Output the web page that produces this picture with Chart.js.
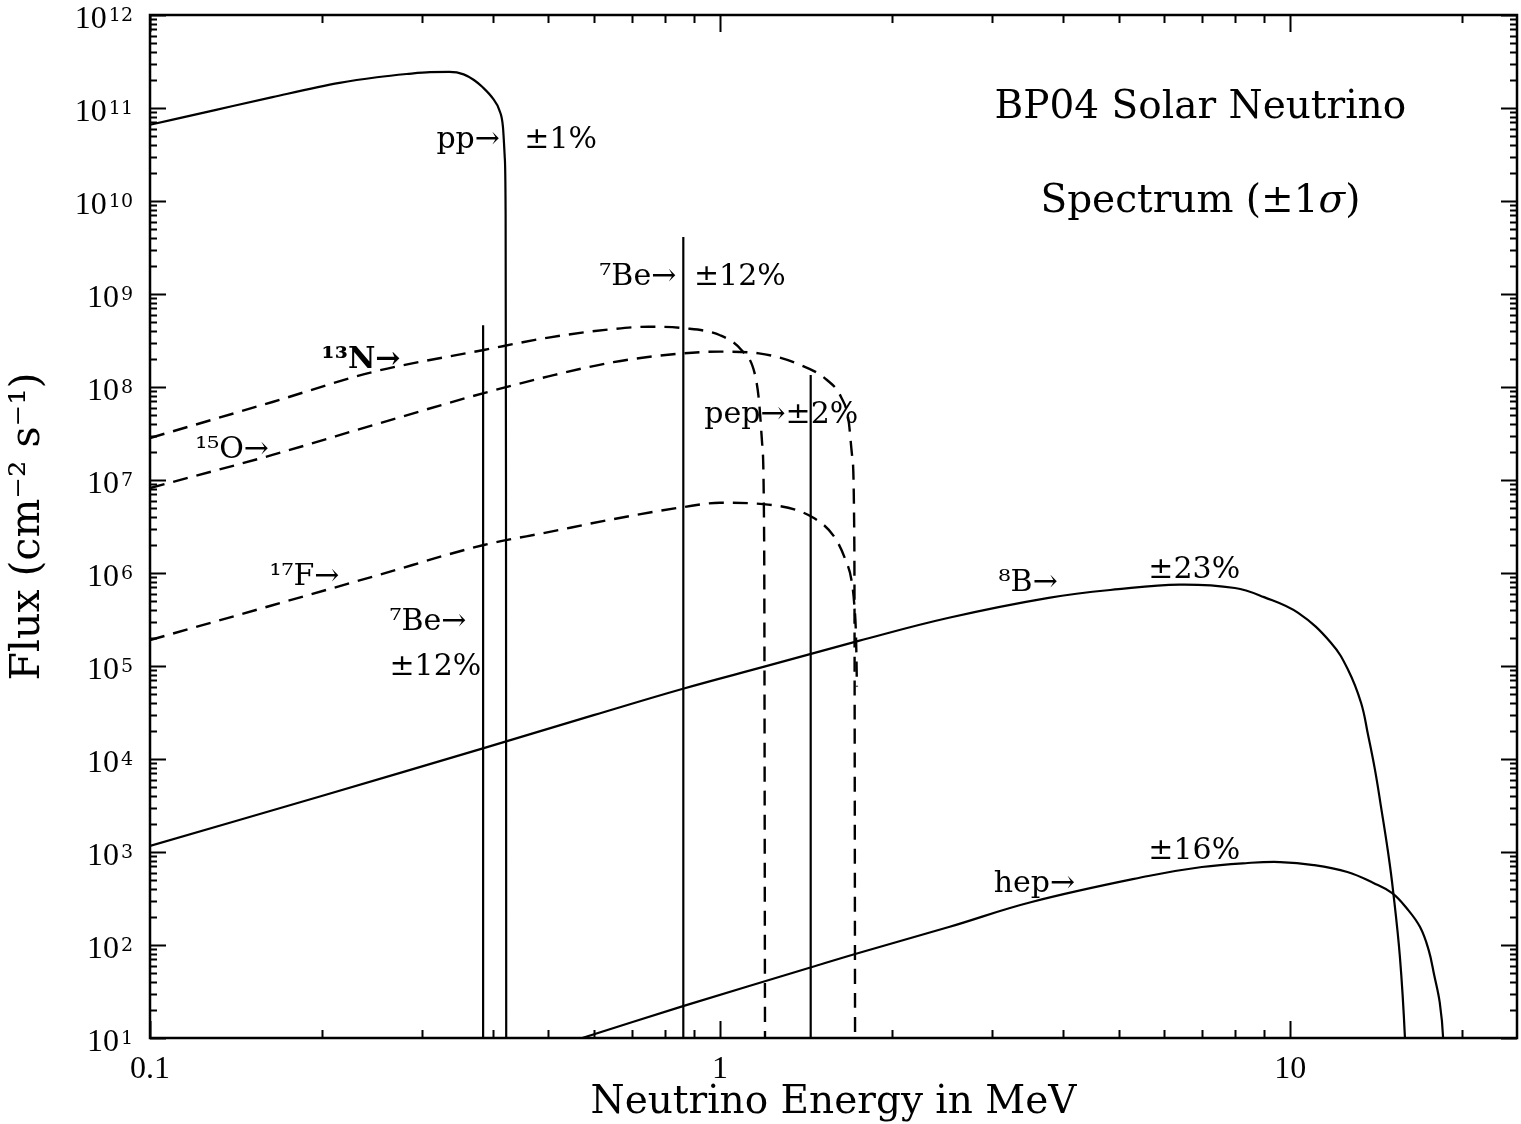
<!DOCTYPE html>
<html>
<head>
<meta charset="utf-8">
<title>BP04 Solar Neutrino Spectrum</title>
<script src="https://cdn.jsdelivr.net/npm/chart.js@4.4.1/dist/chart.umd.min.js"></script>
<style>
  html, body { margin: 0; padding: 0; background: #fff; }
  #wrap { width: 1521px; height: 1124px; }
</style>
</head>
<body>
<div id="wrap"><canvas id="spectrum" width="1521" height="1124"></canvas></div>
<script>
// continuum spectra, energy in MeV, flux in cm^-2 s^-1 (per MeV)
var ppEnergy  = [0.1, 0.13, 0.164, 0.215, 0.25, 0.282, 0.31, 0.335, 0.355, 0.37, 0.383, 0.4, 0.41, 0.416, 0.419, 0.4205, 0.4212, 0.4216];
var ppFlux    = [6.6e10, 9.5e10, 1.31e11, 1.86e11, 2.14e11, 2.32e11, 2.43e11, 2.44e11, 2.3e11, 2.0e11, 1.68e11, 1.25e11, 9.5e10, 6.3e10, 3.0e10, 8e9, 1e7, 1];

var n13Energy = [0.1, 0.164, 0.246, 0.385, 0.5, 0.65, 0.75, 0.86, 1.0, 1.09, 1.15, 1.17, 1.185, 1.195, 1.199];
var n13Flux   = [2.83e7, 6.9e7, 1.45e8, 2.5e8, 3.4e8, 4.2e8, 4.45e8, 4.3e8, 3.6e8, 2.5e8, 1.4e8, 7.2e7, 2.5e7, 2e6, 10];

var o15Energy = [0.1, 0.164, 0.25, 0.385, 0.5, 0.65, 0.86, 1.0, 1.17, 1.36, 1.54, 1.63, 1.68, 1.705, 1.72, 1.725];
var o15Flux   = [8.2e6, 1.86e7, 4.0e7, 8.6e7, 1.3e8, 1.85e8, 2.3e8, 2.4e8, 2.3e8, 1.8e8, 1.19e8, 7.8e7, 4.4e7, 1.8e7, 2e6, 10];

var f17Energy = [0.1, 0.164, 0.25, 0.385, 0.5, 0.65, 0.86, 1.0, 1.19, 1.45, 1.59, 1.66, 1.7, 1.72, 1.732, 1.738];
var f17Flux   = [1.9e5, 4.5e5, 9.4e5, 2.0e6, 2.75e6, 3.8e6, 5.1e6, 5.7e6, 5.5e6, 4.0e6, 2.4e6, 1.38e6, 8.4e5, 4.5e5, 2e5, 6e4];

var b8Energy  = [0.1, 0.2, 0.385, 0.6, 0.861, 1.2, 1.75, 2.52, 3.77, 5.0, 6.4, 8.0, 9.0, 10.33, 11.8, 12.64, 13.32, 13.7, 14.09, 14.43, 14.85, 15.15, 15.58, 15.9, 16.1];
var b8Flux    = [1160, 4.0e3, 1.31e4, 2.96e4, 5.7e4, 9.9e4, 1.86e5, 3.3e5, 5.4e5, 6.7e5, 7.5e5, 6.9e5, 5.5e5, 3.72e5, 1.77e5, 9.06e4, 4.0e4, 1.81e4, 7.6e3, 3.1e3, 1.0e3, 390, 74, 10, 1];

var hepEnergy = [0.573, 0.861, 1.45, 1.75, 2.52, 3.52, 5.64, 7.0, 8.43, 9.6, 11, 12.6, 14, 15.1, 16.0, 16.9, 17.5, 17.9, 18.3, 18.55, 18.7];
var hepFlux   = [10, 22, 58, 82, 156, 290, 552, 690, 762, 780, 724, 610, 465, 362, 250, 156, 88, 47, 24, 10, 1];

// line sources (cm^-2 s^-1): 7Be 0.384, 7Be 0.862, pep 1.442
var lineEnergy = [0.384, 0.862, 1.442];
var lineFlux   = [4.6e8, 4.1e9, 1.35e8];

// axes
var xMin = 0.1, xMax = 25;
var yMin = 10, yMax = 1e12;
var xDecades = [0.1, 1, 10];
var xTickLabels = ['0.1', '1', '10'];
var yExponents = [1, 2, 3, 4, 5, 6, 7, 8, 9, 10, 11, 12];

function minorSteps(decades, top) {
    var out = [];
    decades.forEach(function(d) {
        for (var k = 1; k <= 9; k++) {
            var v = d * k;
            if (v <= top * 1.0000001) out.push(+v.toPrecision(6));
        }
    });
    return out;
}
var xTickValues = minorSteps(xDecades, xMax);
var yTickValues = minorSteps(yExponents.map(function(e) { return Math.pow(10, e); }), yMax);

function isDecade(v) {
    var e = Math.round(Math.log10(v));
    return Math.abs(v - Math.pow(10, e)) / v < 1e-6;
}

function pairs(xs, ys) {
    return xs.map(function(x, i) { return { x: x, y: ys[i] }; });
}

// texts written on the plot
var notes = [
    { text: 'pp\u2192', e: 0.318, f: 4.5e10 },
    { text: '\u00b11%', e: 0.4535, f: 4.5e10 },
    { text: '\u2077Be\u2192', e: 0.614, f: 1.52e9 },
    { text: '\u00b112%', e: 0.9, f: 1.52e9 },
    { text: '\u00b9\u00b3N\u2192', e: 0.2, f: 1.95e8, bold: true },
    { text: '\u00b9\u2075O\u2192', e: 0.12, f: 2.1e7 },
    { text: 'pep\u2192\u00b12%', e: 0.938, f: 5.0e7 },
    { text: '\u00b9\u2077F\u2192', e: 0.162, f: 9.1e5 },
    { text: '\u2077Be\u2192', e: 0.263, f: 2.97e5 },
    { text: '\u00b112%', e: 0.263, f: 9.7e4 },
    { text: '\u2078B\u2192', e: 3.08, f: 7.8e5 },
    { text: '\u00b123%', e: 5.64, f: 1.08e6 },
    { text: 'hep\u2192', e: 3.02, f: 453 },
    { text: '\u00b116%', e: 5.64, f: 1.03e3 }
];

var SERIF = '"DejaVu Serif", serif';
var TICKFONT = '"Liberation Serif", "DejaVu Serif", serif';

var decor = {
    id: 'decor',
    afterDatasetsDraw: function(chart) {
        var ctx = chart.ctx, xs = chart.scales.x, ys = chart.scales.y;
        ctx.save();
        ctx.fillStyle = '#000';
        ctx.textBaseline = 'middle';
        ctx.textAlign = 'left';
        notes.forEach(function(n) {
            ctx.font = (n.bold ? 'bold ' : '') + '30px ' + SERIF;
            ctx.fillText(n.text, xs.getPixelForValue(n.e), ys.getPixelForValue(n.f));
        });

        // heading, with an italic sigma
        var cx = xs.getPixelForValue(6.96);
        ctx.font = '39px ' + SERIF;
        ctx.textAlign = 'center';
        ctx.fillText('BP04 Solar Neutrino', cx, ys.getPixelForValue(1e11));
        var y2 = ys.getPixelForValue(9.75e9);
        var a = 'Spectrum (\u00b11', b = '\u03c3', c = ')';
        var wa = ctx.measureText(a).width, wc = ctx.measureText(c).width;
        ctx.font = 'italic 39px ' + SERIF;
        var wb = ctx.measureText(b).width;
        var x0 = cx - (wa + wb + wc) / 2;
        ctx.textAlign = 'left';
        ctx.font = '39px ' + SERIF;
        ctx.fillText(a, x0, y2);
        ctx.font = 'italic 39px ' + SERIF;
        ctx.fillText(b, x0 + wa, y2);
        ctx.font = '39px ' + SERIF;
        ctx.fillText(c, x0 + wa + wb, y2);
        ctx.restore();
    },
    afterDraw: function(chart) {
        var ctx = chart.ctx, area = chart.chartArea;
        var xs = chart.scales.x, ys = chart.scales.y;
        ctx.save();
        ctx.strokeStyle = '#000';
        ctx.fillStyle = '#000';
        ctx.lineWidth = 2;
        ctx.beginPath();
        xTickValues.forEach(function(v) {
            var px = Math.round(xs.getPixelForValue(v)) + 0.5;
            var len = isDecade(v) ? 17 : 8;
            ctx.moveTo(px, area.bottom); ctx.lineTo(px, area.bottom - len);
            ctx.moveTo(px, area.top); ctx.lineTo(px, area.top + len);
        });
        yTickValues.forEach(function(v) {
            var py = Math.round(ys.getPixelForValue(v)) + 0.5;
            var len = isDecade(v) ? 16 : 7;
            ctx.moveTo(area.left, py); ctx.lineTo(area.left + len, py);
            ctx.moveTo(area.right, py); ctx.lineTo(area.right - len, py);
        });
        ctx.stroke();
        ctx.lineWidth = 2.5;
        ctx.strokeRect(area.left, area.top, area.right - area.left, area.bottom - area.top);

        // y tick labels: 10 with a raised exponent
        ctx.textBaseline = 'alphabetic';
        ctx.textAlign = 'left';
        yExponents.forEach(function(e) {
            var py = ys.getPixelForValue(Math.pow(10, e));
            ctx.font = '19px ' + SERIF;
            var we = ctx.measureText(String(e)).width;
            ctx.font = '32px ' + TICKFONT;
            var wb = ctx.measureText('10').width;
            var right = area.left - 17;
            ctx.fillText('10', right - we - wb - 2, py + 13);
            ctx.font = '19px ' + SERIF;
            ctx.fillText(String(e), right - we, py + 6);
        });
        ctx.restore();
    }
};

function solid(label, xs, ys) {
    return {
        label: label,
        data: pairs(xs, ys),
        borderColor: '#000',
        borderWidth: 2.2,
        pointRadius: 0,
        fill: false,
        cubicInterpolationMode: 'monotone'
    };
}
function smooth(label, xs, ys) {
    var d = solid(label, xs, ys);
    d.cubicInterpolationMode = 'default';
    d.tension = 0.4;
    return d;
}
function dashed(label, xs, ys) {
    var d = solid(label, xs, ys);
    d.borderDash = [15, 9];
    d.borderWidth = 2.4;
    return d;
}

var datasets = [
    solid('pp', ppEnergy, ppFlux),
    dashed('13N', n13Energy, n13Flux),
    dashed('15O', o15Energy, o15Flux),
    dashed('17F', f17Energy, f17Flux),
    smooth('8B', b8Energy, b8Flux),
    smooth('hep', hepEnergy, hepFlux)
];
lineEnergy.forEach(function(e, i) {
    datasets.push({
        label: 'line ' + e,
        data: [{ x: e, y: yMin }, { x: e, y: lineFlux[i] }],
        borderColor: '#000',
        borderWidth: 2.2,
        pointRadius: 0,
        fill: false,
        tension: 0
    });
});

new Chart(document.getElementById('spectrum').getContext('2d'), {
    type: 'line',
    data: { datasets: datasets },
    plugins: [decor],
    options: {
        responsive: false,
        animation: false,
        devicePixelRatio: 1,
        layout: { padding: { top: 15, right: 4, left: 0, bottom: 0 } },
        plugins: { legend: { display: false }, tooltip: { enabled: false } },
        scales: {
            x: {
                type: 'logarithmic',
                position: 'bottom',
                min: xMin,
                max: xMax,
                afterBuildTicks: function(scale) {
                    scale.ticks = xTickValues.map(function(v) { return { value: v }; });
                },
                afterFit: function(scale) { scale.height = 86; },
                grid: { display: false },
                border: { display: false },
                ticks: {
                    autoSkip: false,
                    maxRotation: 0,
                    padding: 8,
                    color: '#000',
                    font: { family: TICKFONT, size: 32, lineHeight: 1 },
                    callback: function(value) {
                        var i = xDecades.findIndex(function(d) { return Math.abs(d - value) / d < 1e-6; });
                        return i >= 0 ? xTickLabels[i] : '';
                    }
                },
                title: {
                    display: true,
                    text: 'Neutrino Energy in MeV',
                    color: '#000',
                    font: { family: SERIF, size: 39, lineHeight: 1.1 },
                    padding: { top: 0, bottom: 0 }
                }
            },
            y: {
                type: 'logarithmic',
                min: yMin,
                max: yMax,
                afterBuildTicks: function(scale) {
                    scale.ticks = yTickValues.map(function(v) { return { value: v }; });
                },
                afterFit: function(scale) { scale.width = 150; },
                grid: { display: false },
                border: { display: false },
                ticks: { display: false },
                title: {
                    display: true,
                    text: 'Flux (cm\u207b\u00b2 s\u207b\u00b9)',
                    color: '#000',
                    font: { family: SERIF, size: 41 },
                    padding: { top: 4, bottom: 0 }
                }
            }
        }
    }
});
</script>
</body>
</html>
